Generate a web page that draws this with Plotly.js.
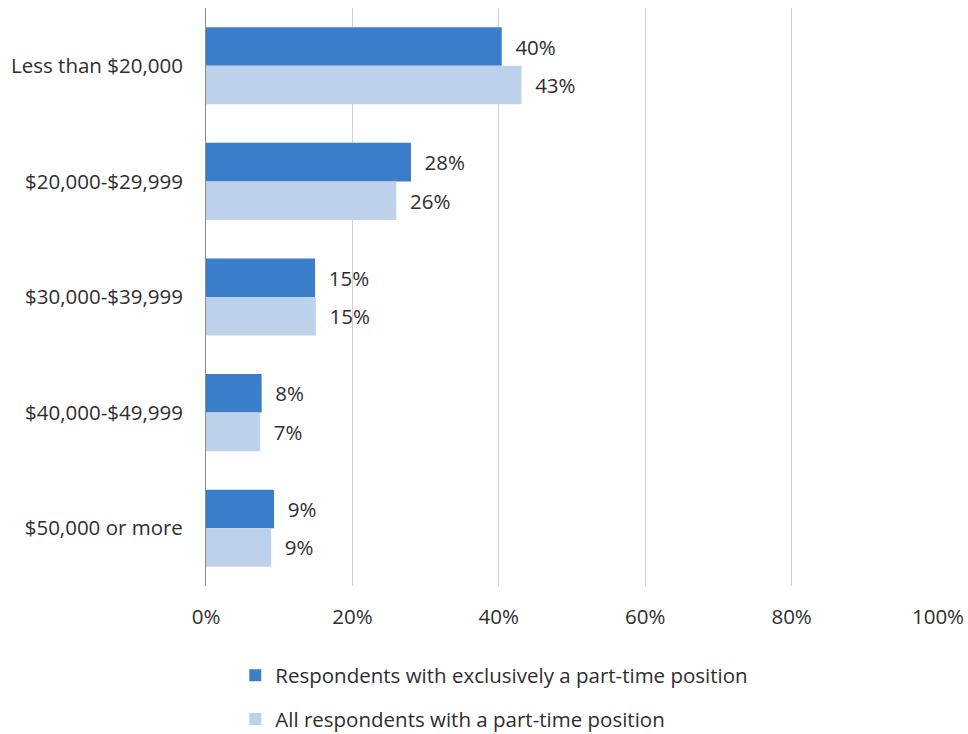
<!DOCTYPE html>
<html>
<head>
<meta charset="utf-8">
<script src="https://cdn.plot.ly/plotly-3.0.1.min.js"></script>
<style>html,body{margin:0;padding:0;background:#fff;}#chart{width:968px;height:734px;}</style>
</head>
<body>
<div id="chart"></div>
<script>
var categories = ["Less than $20,000", "$20,000-$29,999", "$30,000-$39,999", "$40,000-$49,999", "$50,000 or more"];
var exclusivePT = [40.4, 28.0, 14.9, 7.6, 9.3];
var allPT = [43.1, 26.0, 15.0, 7.4, 8.9];
var seriesNames = ["Respondents with exclusively a part-time position", "All respondents with a part-time position"];
var xTickVals = [0, 20, 40, 60, 80, 100];
var xTickText = ["0%", "20%", "40%", "60%", "80%", "100%"];

var fontFam = "Open Sans, Noto Sans, sans-serif";
var txtColor = "#2e2e2e";
var fs = 20.5;

var traces = [
  {type: "bar", orientation: "h", name: seriesNames[0], y: categories, x: exclusivePT,
   marker: {color: "#3A7DC9"}, texttemplate: "\u00a0\u00a0%{x:.0f}%", textposition: "outside", cliponaxis: false,
   textfont: {family: fontFam, size: fs, color: txtColor}, legendgroup: "a", hoverinfo: "x+y"},
  {type: "bar", orientation: "h", name: seriesNames[1], y: categories, x: allPT,
   marker: {color: "#BDD1EA"}, texttemplate: "\u00a0\u00a0%{x:.0f}%", textposition: "outside", cliponaxis: false,
   textfont: {family: fontFam, size: fs, color: txtColor}, legendgroup: "b", hoverinfo: "x+y"}
];

var layout = {
  width: 968, height: 734,
  margin: {l: 206, r: 30, t: 8, b: 148},
  paper_bgcolor: "#fff", plot_bgcolor: "#fff",
  barmode: "group", bargap: 0.333, bargroupgap: 0,
  font: {family: fontFam, size: fs, color: txtColor},
  xaxis: {range: [0, 100], tickvals: xTickVals, ticktext: xTickText, showgrid: true,
          gridcolor: "#D0D0D0", gridwidth: 1, zeroline: false, showline: false,
          ticks: "", ticklen: 0, ticklabelstandoff: 16, tickfont: {family: fontFam, size: fs, color: txtColor}, fixedrange: true},
  yaxis: {autorange: "reversed", showline: true, linecolor: "#8C8C8C", linewidth: 1,
          ticks: "", showgrid: false, ticklabelstandoff: 18, tickfont: {family: fontFam, size: fs, color: txtColor}, fixedrange: true},
  showlegend: true,
  legend: {orientation: "v", x: 0.04, xanchor: "left", xref: "paper", y: 0.107, yanchor: "top", yref: "container",
           traceorder: "grouped", tracegroupgap: 14, font: {family: fontFam, size: fs, color: txtColor},
           bgcolor: "rgba(0,0,0,0)"}
};

Plotly.newPlot("chart", traces, layout, {displayModeBar: false, staticPlot: true});
</script>
</body>
</html>
